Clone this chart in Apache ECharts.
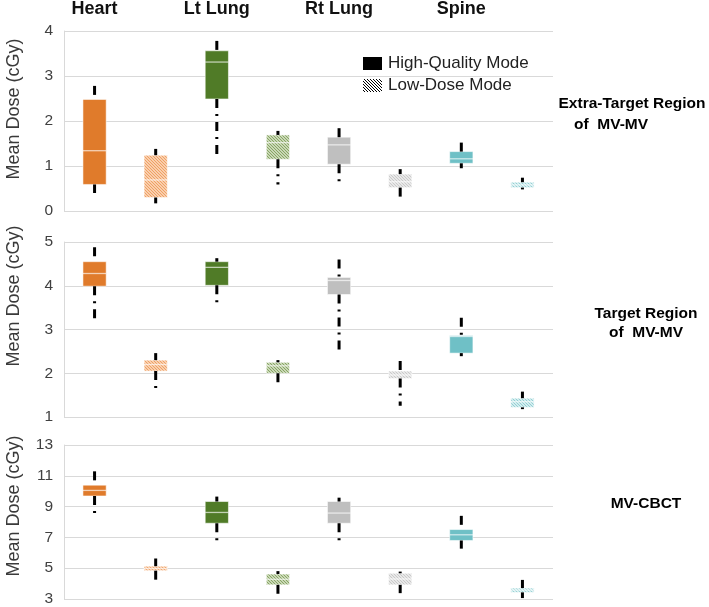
<!DOCTYPE html>
<html><head><meta charset="utf-8">
<script src="https://cdn.jsdelivr.net/npm/echarts@6/dist/echarts.min.js"></script>
<style>html,body{margin:0;padding:0;background:#fff}#c{width:709px;height:607px}</style>
</head><body><div id="c"></div>
<script>
const organs = ['Heart', 'Lt Lung', 'Rt Lung', 'Spine'];
const modes = ['High-Quality Mode', 'Low-Dose Mode'];
const panelTitles = [['Extra-Target Region', 'of  MV-MV'], ['Target Region', 'of  MV-MV'], ['MV-CBCT']];
const yName = 'Mean Dose (cGy)';
// each box: [min, q1, median, q3, max]
const extraHQ = [[0.40,0.59,1.34,2.48,2.78],[1.24,2.49,3.31,3.56,3.78],[0.65,1.04,1.47,1.64,1.84],[0.95,1.06,1.16,1.32,1.52]];
const extraLD = [[0.17,0.30,0.69,1.24,1.38],[0.59,1.15,1.52,1.69,1.78],[0.32,0.52,0.65,0.82,0.93],[0.48,0.52,0.58,0.64,0.74]];
const targetHQ = [[3.22,3.99,4.28,4.55,4.88],[3.62,4.01,4.42,4.55,4.63],[2.48,3.80,4.12,4.19,4.60],[2.39,2.46,2.84,2.86,3.27]];
const targetLD = [[1.63,2.05,2.20,2.30,2.46],[1.78,2.00,2.17,2.25,2.30],[1.26,1.88,1.96,2.05,2.28],[1.18,1.22,1.35,1.43,1.58]];
const cbctHQ = [[8.58,9.69,10.05,10.39,11.29],[6.80,7.92,8.62,9.33,9.65],[6.80,7.92,8.58,9.33,9.58],[6.27,6.80,7.17,7.51,8.40]];
const cbctLD = [[4.24,4.84,4.98,5.13,5.63],[3.34,3.92,4.28,4.62,4.81],[3.38,3.92,4.30,4.67,4.78],[3.06,3.43,3.58,3.71,4.24]];
const extraTicks = [0, 1, 2, 3, 4];
const targetTicks = [1, 2, 3, 4, 5];
const cbctTicks = [3, 5, 7, 9, 11, 13];

const hqColors = ['#E07B2B', '#507B27', '#BFBFBF', '#6FC0C6'];
const ldColors = [['#F9CFAE', '#EFA063'], ['#C9D8B6', '#88A464'], ['#E8E8E8', '#CACACA'], ['#D3EDEF', '#93CFD3']];

function hatch(bg, fg, n, w) {
  const c = document.createElement('canvas');
  c.width = n; c.height = n;
  const g = c.getContext('2d');
  g.fillStyle = bg; g.fillRect(0, 0, n, n);
  g.fillStyle = fg;
  for (let y = 0; y < n; y++) for (let x = 0; x < n; x++) {
    if (((x - y) % n + n) % n < w) g.fillRect(x, y, 1, 1);
  }
  return { image: c, repeat: 'repeat' };
}
const ldPatterns = ldColors.map(p => hatch(p[0], p[1], 3, 1));
const legendPattern = hatch('#ffffff', '#000000', 3, 1);

const slots = organs.flatMap(o => [o + '|HQ', o + '|LD']);
const panels = [
  { hq: extraHQ, ld: extraLD, ticks: extraTicks, top: 31, height: 180 },
  { hq: targetHQ, ld: targetLD, ticks: targetTicks, top: 242, height: 175 },
  { hq: cbctHQ, ld: cbctLD, ticks: cbctTicks, top: 445, height: 156 }
];
const gridLine = '#D9D9D9';

function renderBox(params, api) {
  const xi = api.value(0);
  const lo = api.value(1), q1 = api.value(2), med = api.value(3), q3 = api.value(4), hi = api.value(5);
  const w = api.size([1, 0])[0] * 0.38;
  const pHi = api.coord([xi, hi]), pQ3 = api.coord([xi, q3]), pMed = api.coord([xi, med]);
  const pQ1 = api.coord([xi, q1]), pLo = api.coord([xi, lo]);
  const cx = pQ3[0];
  const organ = Math.floor(xi / 2), isLD = xi % 2 === 1;
  const fill = isLD ? ldPatterns[organ] : hqColors[organ];
  const wStyle = { stroke: '#000', lineWidth: 3, lineDash: [9, 6, 2, 6], lineCap: 'butt' };
  return {
    type: 'group',
    children: [
      { type: 'rect', shape: { x: cx - w / 2, y: pQ3[1], width: w, height: pQ1[1] - pQ3[1] },
        style: { fill: fill, stroke: 'rgba(255,255,255,0.55)', lineWidth: 1 } },
      { type: 'line', shape: { x1: cx - w / 2, y1: pMed[1], x2: cx + w / 2, y2: pMed[1] },
        style: { stroke: 'rgba(255,255,255,0.65)', lineWidth: 1.3 } },
      { type: 'line', shape: { x1: cx, y1: pHi[1], x2: cx, y2: pQ3[1] }, style: wStyle },
      { type: 'line', shape: { x1: cx, y1: pQ1[1], x2: cx, y2: pLo[1] }, style: wStyle }
    ]
  };
}

const grids = [], xAxes = [], yAxes = [], series = [];
panels.forEach((p, k) => {
  grids.push({ left: 64, width: 489, top: p.top, height: p.height });
  xAxes.push({
    type: 'category', gridIndex: k, data: slots, position: 'top',
    axisLine: { show: false }, axisTick: { show: false }, splitLine: { show: false },
    axisLabel: k === 0 ? {
      show: true, interval: 0, margin: 13,
      fontFamily: 'Liberation Sans, Arial', fontWeight: 'bold', fontSize: 18, color: '#111',
      formatter: v => v.endsWith('|HQ') ? v.split('|')[0] : ''
    } : { show: false }
  });
  const n = p.ticks.length;
  yAxes.push({
    type: 'value', gridIndex: k, min: p.ticks[0], max: p.ticks[n - 1],
    interval: p.ticks[1] - p.ticks[0],
    axisLine: { show: true, lineStyle: { color: gridLine, width: 1 } },
    axisTick: { show: false, customValues: p.ticks },
    axisLabel: { customValues: p.ticks, margin: 11, fontFamily: 'Liberation Sans, Arial', fontSize: 15.5, color: '#404040' },
    splitLine: { show: true, lineStyle: { color: gridLine, width: 1 } }
  });
  const data = [];
  organs.forEach((o, i) => {
    data.push([2 * i].concat(p.hq[i]));
    data.push([2 * i + 1].concat(p.ld[i]));
  });
  series.push({
    type: 'custom', xAxisIndex: k, yAxisIndex: k, renderItem: renderBox,
    encode: { x: 0, y: [1, 2, 3, 4, 5] }, data: data, clip: false, silent: true
  });
});

const font = 'Liberation Sans, Arial';
const graphic = [];
[109, 296, 506].forEach(cy => graphic.push({
  type: 'text', x: 14, y: cy, rotation: Math.PI / 2,
  style: { text: yName, font: '18px ' + font, fill: '#3a3a3a', align: 'center', verticalAlign: 'middle' }
}));
graphic.push(
  { type: 'text', x: 632, y: 104, style: { text: panelTitles[0][0], font: 'bold 15.5px ' + font, fill: '#000', align: 'center', verticalAlign: 'middle' } },
  { type: 'text', x: 574, y: 125, style: { text: panelTitles[0][1], font: 'bold 15.5px ' + font, fill: '#000', align: 'left', verticalAlign: 'middle' } },
  { type: 'text', x: 646, y: 314, style: { text: panelTitles[1][0], font: 'bold 15.5px ' + font, fill: '#000', align: 'center', verticalAlign: 'middle' } },
  { type: 'text', x: 646, y: 333, style: { text: panelTitles[1][1], font: 'bold 15.5px ' + font, fill: '#000', align: 'center', verticalAlign: 'middle' } },
  { type: 'text', x: 646, y: 504, style: { text: panelTitles[2][0], font: 'bold 15.5px ' + font, fill: '#000', align: 'center', verticalAlign: 'middle' } },
  { type: 'rect', shape: { x: 363, y: 57, width: 19, height: 13 }, style: { fill: '#000' } },
  { type: 'text', x: 388, y: 63, style: { text: modes[0], font: '17px ' + font, fill: '#222', align: 'left', verticalAlign: 'middle' } },
  { type: 'rect', shape: { x: 363, y: 79, width: 19, height: 13 }, style: { fill: legendPattern } },
  { type: 'text', x: 388, y: 85, style: { text: modes[1], font: '17px ' + font, fill: '#222', align: 'left', verticalAlign: 'middle' } }
);

const chart = echarts.init(document.getElementById('c'), null, { renderer: 'canvas' });
chart.setOption({
  animation: false,
  backgroundColor: '#fff',
  grid: grids, xAxis: xAxes, yAxis: yAxes, series: series, graphic: graphic
});
</script></body></html>
